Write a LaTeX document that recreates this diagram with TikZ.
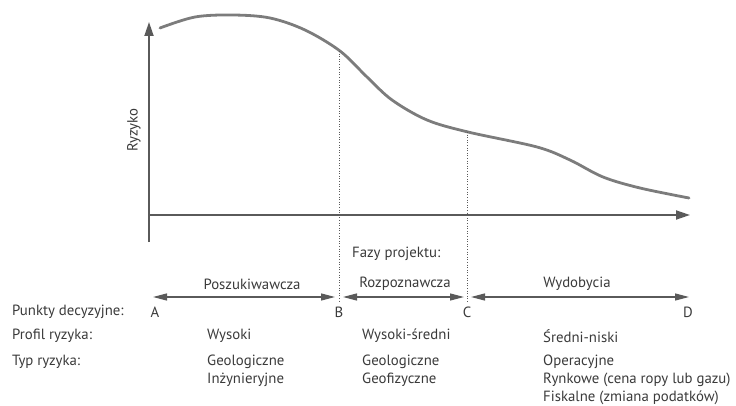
\documentclass[tikz,border=0pt]{standalone}
\usepackage{fontspec}
\setmainfont{PT Sans}
\usetikzlibrary{arrows.meta}
\definecolor{axisgray}{HTML}{5A5A5A}
\definecolor{curvegray}{HTML}{7C7C7C}
\definecolor{txt}{HTML}{3A3A3A}
\tikzset{
  axis/.style={draw=axisgray, line width=1.8pt, -{Triangle[length=14pt,width=9pt]}},
  riskcurve/.style={draw=curvegray, line width=2.8pt, line cap=round},
  guide/.style={draw=axisgray, line width=0.6pt, dotted},
  phasearrow/.style={draw=axisgray, line width=1.3pt, {Triangle[length=14pt,width=7pt]}-{Triangle[length=14pt,width=7pt]}},
  lbl/.style={text=txt, font=\fontsize{14.8pt}{17pt}\selectfont, inner sep=0pt},
}
\begin{document}
\begin{tikzpicture}[x=1pt,y=-1pt]
\useasboundingbox (0,0) rectangle (736,406);
% axes
\coordinate (o) at (149,242);
\coordinate (ytip) at (149,22);
\coordinate (xs) at (149,215);
\coordinate (xtip) at (690,215);
\draw[axis] (o) -- (ytip);
\draw[axis] (xs) -- (xtip);
% curve
\draw[riskcurve] plot[smooth, tension=0.55] coordinates {(160,28) (195,17) (233,15) (270,18) (305,30) (340,51) (367,77) (392,100) (427,120) (468,132) (537,147) (570,160) (603,177) (640,188) (689,198)};
% guides
\coordinate (bt) at (339,51);
\coordinate (bb) at (339,303);
\coordinate (ct) at (467,132);
\coordinate (cb) at (467,303);
\draw[guide] (bt) -- (bb);
\draw[guide] (ct) -- (cb);
% y label
\node[lbl, rotate=90] (ry) at (134,130) {Ryzyko};
% phases
\node[lbl, anchor=west] (fazy) at (352,254) {Fazy projektu:};
\node[lbl] (A) at (155,312) {A};
\node[lbl] (B) at (339,312) {B};
\node[lbl] (C) at (467,312) {C};
\node[lbl] (D) at (688,312) {D};
\coordinate (a1) at (153,297);
\coordinate (b0) at (335,297);
\coordinate (b1) at (343,297);
\coordinate (c0) at (464,297);
\coordinate (c1) at (471,297);
\coordinate (d0) at (689,297);
\draw[phasearrow] (a1) -- (b0);
\draw[phasearrow] (b1) -- (c0);
\draw[phasearrow] (c1) -- (d0);
\node[lbl] (p1) at (252,284) {Poszukiwawcza};
\node[lbl] (p2) at (405,284) {Rozpoznawcza};
\node[lbl] (p3) at (577,284) {Wydobycia};
% rows
\node[lbl, anchor=west] (r1) at (12,312) {Punkty decyzyjne:};
\node[lbl, anchor=west] (r2) at (12,336) {Profil ryzyka:};
\node[lbl, anchor=west] (r3) at (12,362) {Typ ryzyka:};
\node[lbl, anchor=west] (w1) at (207,336) {Wysoki};
\node[lbl, anchor=west] (w2) at (362,336) {Wysoki-średni};
\node[lbl, anchor=west] (w3) at (543,336) {Średni-niski};
\node[lbl, anchor=west] (t1a) at (207,362) {Geologiczne};
\node[lbl, anchor=west] (t1b) at (207,380) {Inżynieryjne};
\node[lbl, anchor=west] (t2a) at (362,362) {Geologiczne};
\node[lbl, anchor=west] (t2b) at (362,380) {Geofizyczne};
\node[lbl, anchor=west] (t3a) at (543,362) {Operacyjne};
\node[lbl, anchor=west] (t3b) at (543,380) {Rynkowe (cena ropy lub gazu)};
\node[lbl, anchor=west] (t3c) at (543,398) {Fiskalne (zmiana podatków)};
\end{tikzpicture}
\end{document}
